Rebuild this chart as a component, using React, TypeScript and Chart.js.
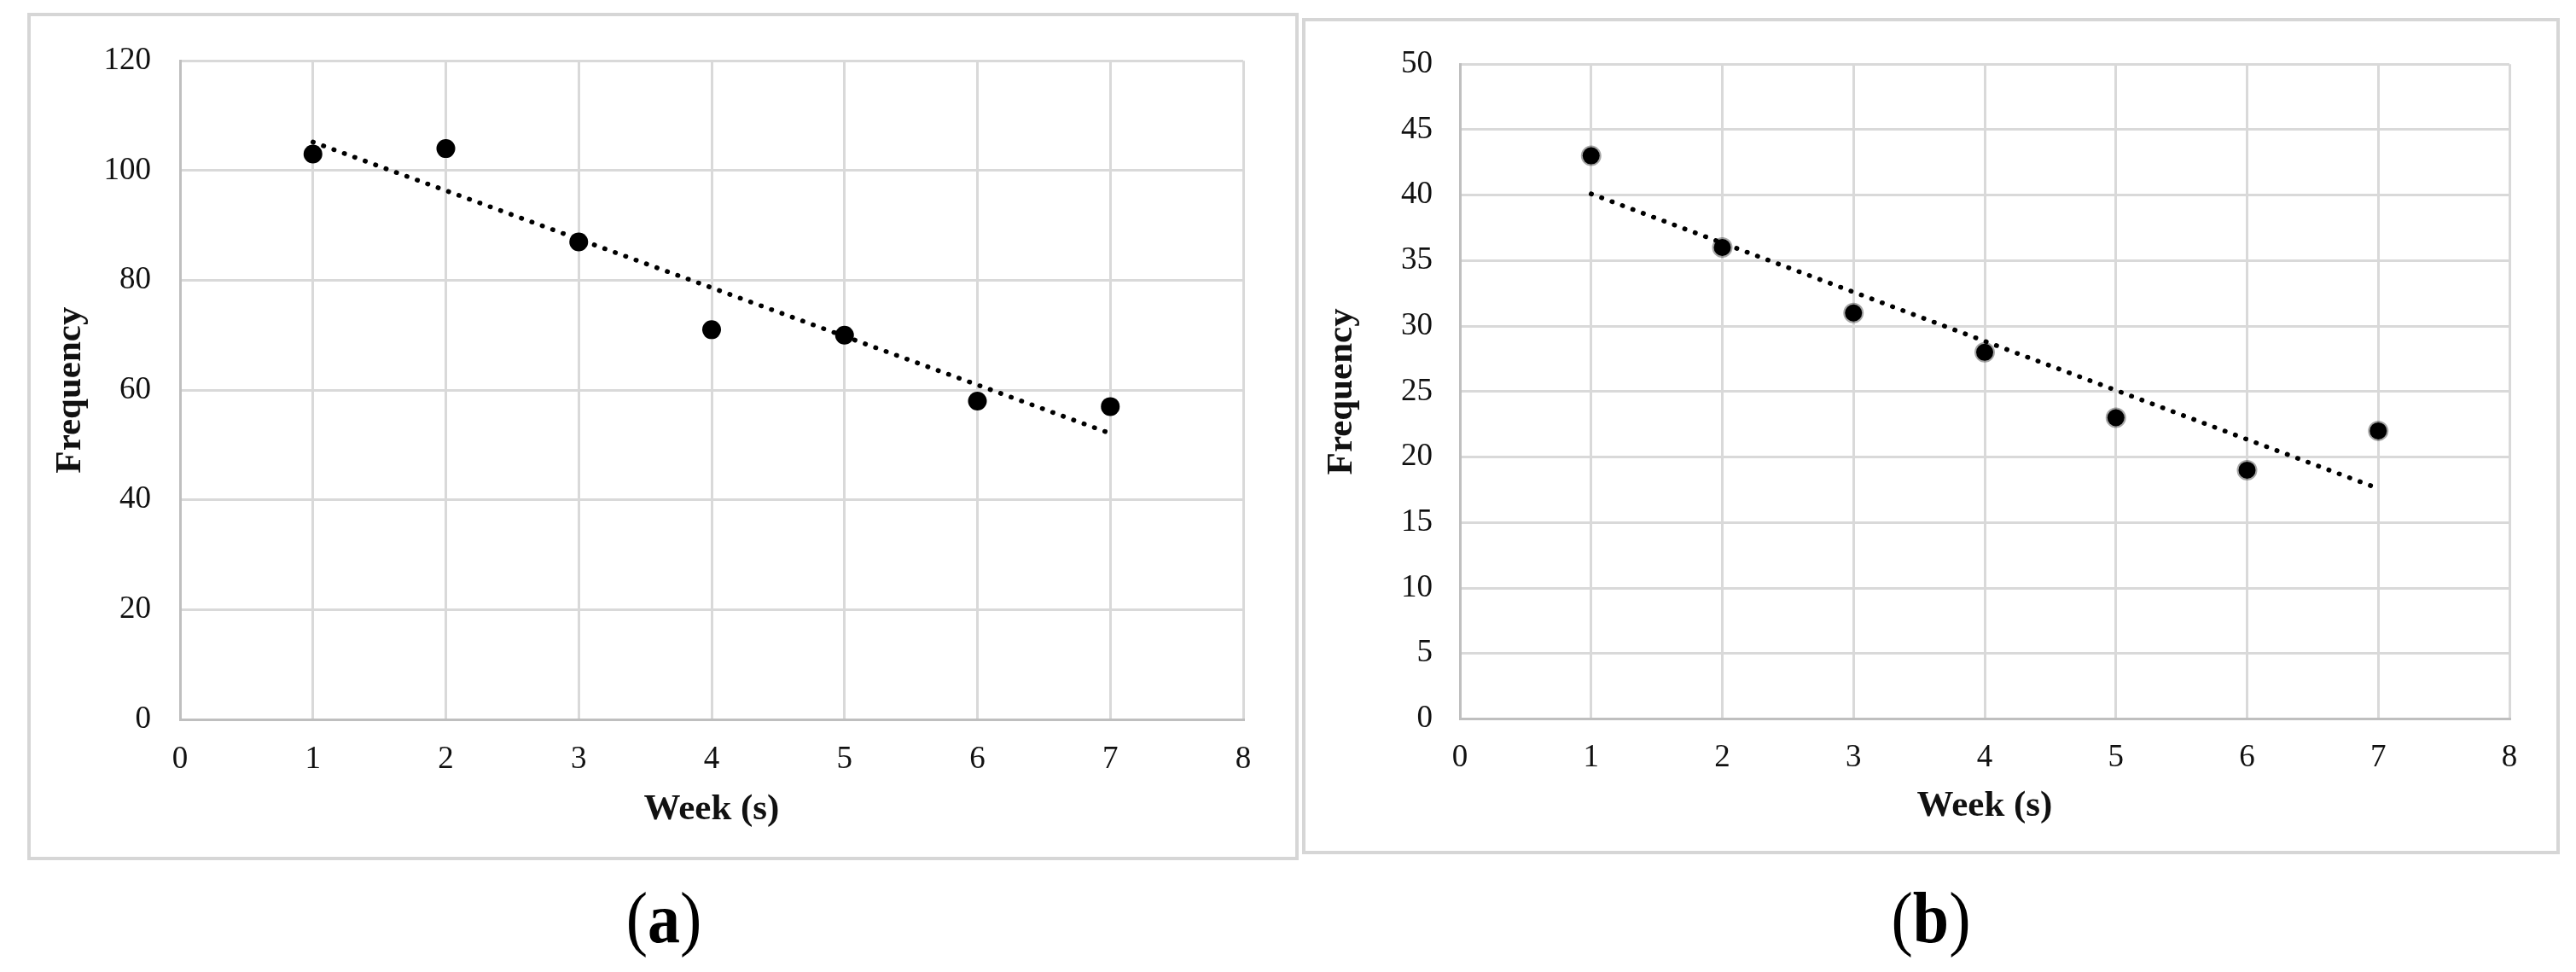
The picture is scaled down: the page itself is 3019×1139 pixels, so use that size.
import React, { useEffect, useRef } from "react";
import { Chart, registerables } from "chart.js";

Chart.register(...registerables);

// ---------- data ----------
const weeks = [1, 2, 3, 4, 5, 6, 7];
const frequencyA = [103, 104, 87, 71, 70, 58, 57];
const frequencyB = [43, 36, 31, 28, 23, 19, 22];
const trendWeeks = [1, 7];
const trendA = [105.2, 52.1];
const trendB = [40.1, 17.6];
const xMin = 0;
const xMax = 8;
const xStep = 1;
const yMaxA = 120;
const yStepA = 20;
const yMaxB = 50;
const yStepB = 5;
const xTitle = "Week (s)";
const yTitle = "Frequency";
const panelLetters = ["a", "b"];

const SERIF = "'Liberation Serif', 'Times New Roman', Times, serif";

type Geo = {
  left: number;
  top: number;
  width: number;
  height: number;
  padTop: number;
  padRight: number;
  yAxisW: number;
  xAxisH: number;
  xTickPad: number;
  yTickPad: number;
  xTitlePad: number;
  yTitlePad: number;
};

type PanelProps = {
  values: number[];
  trend: number[];
  yMax: number;
  yStep: number;
  geo: Geo;
  soft: boolean;
};

function Panel({ values, trend, yMax, yStep, geo, soft }: PanelProps) {
  const ref = useRef<HTMLCanvasElement | null>(null);

  useEffect(() => {
    if (!ref.current) return;
    const tickFont = { family: SERIF, size: 37 };
    const titleFont = { family: SERIF, size: 43, weight: "bold" as const };
    const gridColor = "#d9d9d9";
    const borderColor = "#bfbfbf";

    const chart = new Chart(ref.current, {
      type: "scatter",
      data: {
        datasets: [
          {
            type: "scatter",
            data: weeks.map((w, i) => ({ x: w, y: values[i] })),
            pointRadius: soft ? 10 : 11,
            pointBackgroundColor: "#000",
            pointBorderColor: soft ? "rgba(0,0,0,0.35)" : "#000",
            pointBorderWidth: soft ? 4 : 0,
            pointHoverRadius: 11,
          },
          {
            type: "line",
            data: trendWeeks.map((w, i) => ({ x: w, y: trend[i] })),
            borderColor: "#000",
            borderWidth: 5.5,
            borderDash: [0.5, 12.5],
            borderCapStyle: "round",
            pointRadius: 0,
            fill: false,
          } as any,
        ],
      },
      options: {
        animation: false,
        responsive: false,
        devicePixelRatio: 1,
        layout: {
          padding: { top: geo.padTop, right: geo.padRight, left: 0, bottom: 0 },
        },
        plugins: {
          legend: { display: false },
          tooltip: { enabled: false },
        },
        scales: {
          x: {
            type: "linear",
            min: xMin,
            max: xMax,
            ticks: {
              stepSize: xStep,
              padding: geo.xTickPad,
              font: tickFont,
              color: "#111",
              autoSkip: false,
              maxRotation: 0,
            },
            grid: { color: gridColor, lineWidth: 3, drawTicks: false },
            border: { color: borderColor, width: 3 },
            title: {
              display: true,
              text: xTitle,
              font: titleFont,
              color: "#111",
              padding: { top: 0, bottom: geo.xTitlePad },
            },
            afterFit: (s: any) => {
              s.height = geo.xAxisH;
            },
          },
          y: {
            type: "linear",
            min: 0,
            max: yMax,
            ticks: {
              stepSize: yStep,
              padding: geo.yTickPad,
              font: tickFont,
              color: "#111",
            },
            grid: { color: gridColor, lineWidth: 3, drawTicks: false },
            border: { color: borderColor, width: 3 },
            title: {
              display: true,
              text: yTitle,
              font: titleFont,
              color: "#111",
              padding: { top: geo.yTitlePad, bottom: 0 },
            },
            afterFit: (s: any) => {
              s.width = geo.yAxisW;
            },
          },
        },
      } as any,
    });
    return () => chart.destroy();
  }, []);

  return (
    <>
      <div
        style={{
          position: "absolute",
          left: geo.left,
          top: geo.top,
          width: geo.width,
          height: geo.height,
          border: "4px solid #d6d6d6",
          boxSizing: "border-box",
          background: "#fff",
        }}
      />
      <canvas
        ref={ref}
        width={geo.width}
        height={geo.height}
        style={{
          position: "absolute",
          left: geo.left,
          top: geo.top,
          width: geo.width,
          height: geo.height,
          display: "block",
        }}
      />
    </>
  );
}

const geoA: Geo = {
  left: 32,
  top: 15,
  width: 1490,
  height: 993,
  padTop: 48.6,
  padRight: 65,
  yAxisW: 179,
  xAxisH: 165,
  xTickPad: 25,
  yTickPad: 34,
  xTitlePad: 33,
  yTitlePad: 25,
};

const geoB: Geo = {
  left: 1526,
  top: 21,
  width: 1474,
  height: 980,
  padTop: 47.6,
  padRight: 59,
  yAxisW: 185,
  xAxisH: 158.5,
  xTickPad: 24,
  yTickPad: 32,
  xTitlePad: 30,
  yTitlePad: 21,
};

function Letter({ letter, cx }: { letter: string; cx: number }) {
  return (
    <div
      style={{
        position: "absolute",
        left: cx - 200,
        top: 1036,
        width: 400,
        height: 78,
        lineHeight: "78px",
        textAlign: "center",
        fontFamily: SERIF,
        fontSize: 76,
        color: "#000",
        transform: "scaleY(1.12)",
        whiteSpace: "nowrap",
      }}
    >
      (<b>{letter}</b>)
    </div>
  );
}

export default function App() {
  return (
    <div
      style={{
        position: "absolute",
        left: 0,
        top: 0,
        width: 3019,
        height: 1139,
        background: "#fff",
        overflow: "hidden",
      }}
    >
      <Panel values={frequencyA} trend={trendA} yMax={yMaxA} yStep={yStepA} geo={geoA} soft={false} />
      <Panel values={frequencyB} trend={trendB} yMax={yMaxB} yStep={yStepB} geo={geoB} soft={true} />
      <Letter letter={panelLetters[0]} cx={778} />
      <Letter letter={panelLetters[1]} cx={2263} />
    </div>
  );
}
